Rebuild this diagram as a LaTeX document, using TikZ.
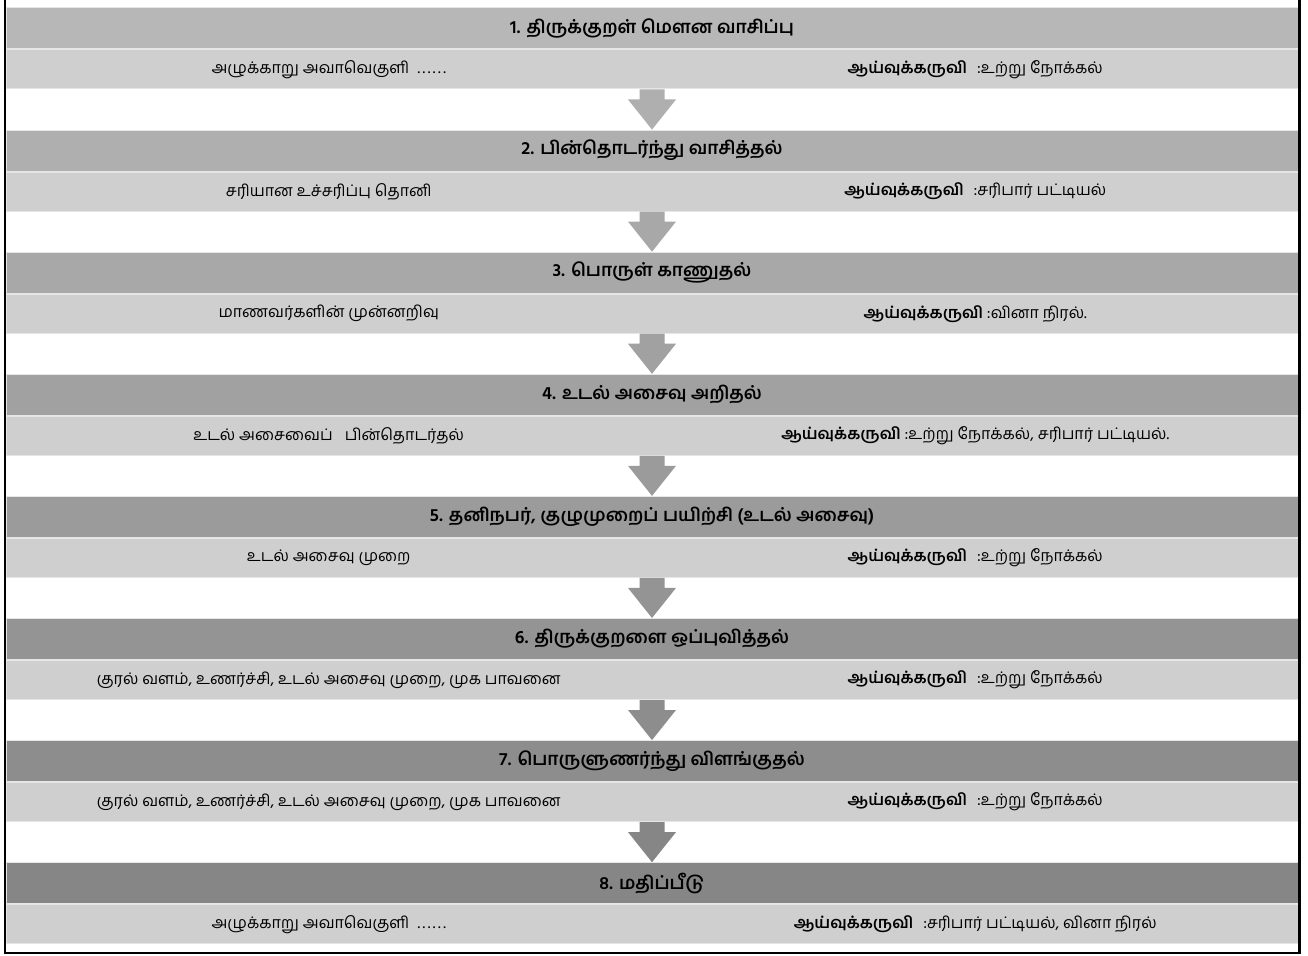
\documentclass[tikz,border=0pt]{standalone}
\usepackage{fontspec}
\newfontfamily\tam[Script=Tamil]{Hind Madurai}
\usetikzlibrary{calc,positioning}
\definecolor{hc1}{HTML}{B7B7B7}
\definecolor{hc2}{HTML}{AFAFAF}
\definecolor{hc3}{HTML}{A8A8A8}
\definecolor{hc4}{HTML}{A1A1A1}
\definecolor{hc5}{HTML}{9B9B9B}
\definecolor{hc6}{HTML}{949494}
\definecolor{hc7}{HTML}{8D8D8D}
\definecolor{hc8}{HTML}{868686}
\definecolor{subc}{HTML}{CFCFCF}
\definecolor{edgec}{HTML}{E6E6E6}
\tikzset{
  hdr/.style={rectangle, minimum width=1292pt, minimum height=41pt, inner sep=0pt, draw=edgec, line width=1pt, fill=#1,
    font=\tam\bfseries\fontsize{18}{21}\selectfont, text=black},
  subrow/.style={rectangle, minimum width=1292pt, minimum height=39pt, inner sep=0pt, fill=subc, draw=edgec, line width=1pt},
  lt/.style={font=\tam\fontsize{16}{19}\selectfont, inner sep=0pt, text=black},
  frame/.style={line width=2.5pt, black}
}
\newcommand\flowarrow[3]{%
  \fill[#3] ($(#1.south)+(-12.5,0)$) -- ($(#1.south)+(12.5,0)$) -- ($(#1.south)+(12.5,10)$)
    -- ($(#1.south)+(24,10)$) -- (#2.north) -- ($(#1.south)+(-24,10)$) -- ($(#1.south)+(-12.5,10)$) -- cycle;}
\newcommand\tool{{\bfseries ஆய்வுக்கருவி}}
\newcommand\sixdots{.\kern2.5pt.\kern2.5pt.\kern2.5pt.\kern2.5pt.\kern2.5pt.}
\begin{document}
\begin{tikzpicture}[x=1pt,y=-1pt]
\useasboundingbox (0,0) rectangle (1308,955);
\fill[white] (0,0) rectangle (1308,955);
% stage 1
\node[hdr=hc1] (h1) at (652,28.5) {1. திருக்குறள் மௌன வாசிப்பு};
\node[subrow, below=0pt of h1] (s1) {};
\node[lt] (l1) at ($(s1.west)!0.25!(s1.east)$) {அழுக்காறு அவாவெகுளி\hspace{8pt}\sixdots};
\node[lt] (r1) at ($(s1.west)!0.75!(s1.east)$) {\tool\hspace{10pt}:உற்று நோக்கல்};
% stage 2
\node[hdr=hc2] (h2) at (652,150.6) {2. பின்தொடர்ந்து வாசித்தல்};
\node[subrow, below=0pt of h2] (s2) {};
\node[lt] (l2) at ($(s2.west)!0.25!(s2.east)$) {சரியான உச்சரிப்பு தொனி};
\node[lt] (r2) at ($(s2.west)!0.75!(s2.east)$) {\tool\hspace{10pt}:சரிபார் பட்டியல்};
% stage 3
\node[hdr=hc3] (h3) at (652,272.7) {3. பொருள் காணுதல்};
\node[subrow, below=0pt of h3] (s3) {};
\node[lt] (l3) at ($(s3.west)!0.25!(s3.east)$) {மாணவர்களின் முன்னறிவு};
\node[lt] (r3) at ($(s3.west)!0.75!(s3.east)$) {\tool\ :வினா நிரல்.};
% stage 4
\node[hdr=hc4] (h4) at (652,394.8) {4. உடல் அசைவு அறிதல்};
\node[subrow, below=0pt of h4] (s4) {};
\node[lt] (l4) at ($(s4.west)!0.25!(s4.east)$) {உடல் அசைவைப்\hspace{12pt}பின்தொடர்தல்};
\node[lt] (r4) at ($(s4.west)!0.75!(s4.east)$) {\tool\ :உற்று நோக்கல், சரிபார் பட்டியல்.};
% stage 5
\node[hdr=hc5] (h5) at (652,516.9) {5. தனிநபர், குழுமுறைப் பயிற்சி (உடல் அசைவு)};
\node[subrow, below=0pt of h5] (s5) {};
\node[lt] (l5) at ($(s5.west)!0.25!(s5.east)$) {உடல் அசைவு முறை};
\node[lt] (r5) at ($(s5.west)!0.75!(s5.east)$) {\tool\hspace{10pt}:உற்று நோக்கல்};
% stage 6
\node[hdr=hc6] (h6) at (652,639) {6. திருக்குறளை ஒப்புவித்தல்};
\node[subrow, below=0pt of h6] (s6) {};
\node[lt] (l6) at ($(s6.west)!0.25!(s6.east)$) {குரல் வளம், உணர்ச்சி, உடல் அசைவு முறை, முக பாவனை};
\node[lt] (r6) at ($(s6.west)!0.75!(s6.east)$) {\tool\hspace{10pt}:உற்று நோக்கல்};
% stage 7
\node[hdr=hc7] (h7) at (652,761.1) {7. பொருளுணர்ந்து விளங்குதல்};
\node[subrow, below=0pt of h7] (s7) {};
\node[lt] (l7) at ($(s7.west)!0.25!(s7.east)$) {குரல் வளம், உணர்ச்சி, உடல் அசைவு முறை, முக பாவனை};
\node[lt] (r7) at ($(s7.west)!0.75!(s7.east)$) {\tool\hspace{10pt}:உற்று நோக்கல்};
% stage 8
\node[hdr=hc8] (h8) at (652,883.2) {8. மதிப்பீடு};
\node[subrow, below=0pt of h8] (s8) {};
\node[lt] (l8) at ($(s8.west)!0.25!(s8.east)$) {அழுக்காறு அவாவெகுளி\hspace{8pt}\sixdots};
\node[lt] (r8) at ($(s8.west)!0.75!(s8.east)$) {\tool\hspace{10pt}:சரிபார் பட்டியல், வினா நிரல்};
% arrows
\flowarrow{s1}{h2}{hc2}
\flowarrow{s2}{h3}{hc3}
\flowarrow{s3}{h4}{hc4}
\flowarrow{s4}{h5}{hc5}
\flowarrow{s5}{h6}{hc6}
\flowarrow{s6}{h7}{hc7}
\flowarrow{s7}{h8}{hc8}
% frame
\coordinate (ftl) at (5,0);
\coordinate (fbl) at (5,953);
\coordinate (fbr) at (1299.5,953);
\coordinate (ftr) at (1299.5,0);
\draw[frame] (ftl) -- (fbl) -- (fbr) -- (ftr);
\end{tikzpicture}
\end{document}
